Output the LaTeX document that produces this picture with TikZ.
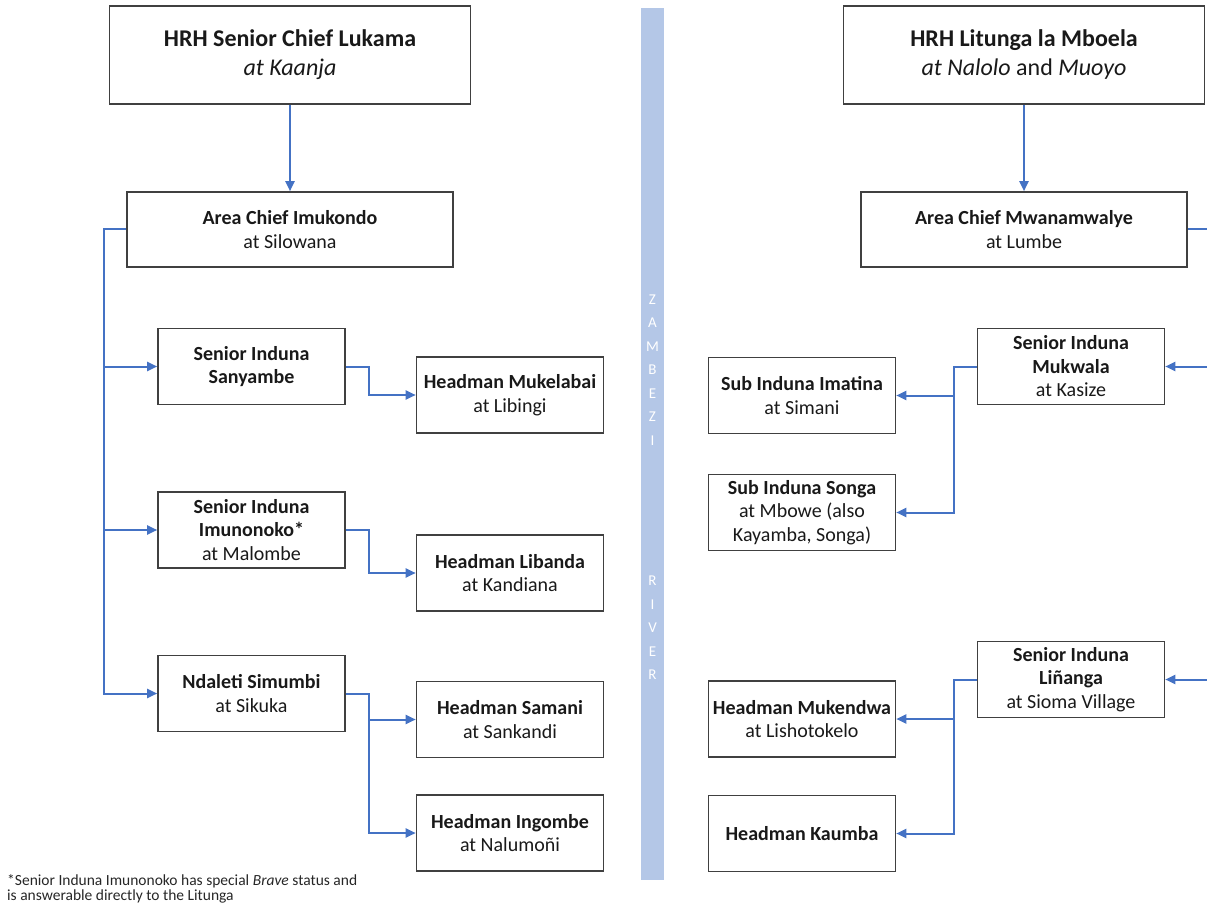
\documentclass[tikz,border=0pt]{standalone}
\usepackage{fontspec}
\setmainfont{Carlito}
\usepackage{tikz}
\usetikzlibrary{arrows.meta}
\definecolor{lnblue}{HTML}{4472C4}
\definecolor{rivblue}{HTML}{B4C7E7}
\definecolor{bxgray}{HTML}{404040}

\begin{document}
\begin{tikzpicture}[x=1pt,y=-1pt,
      nd/.style={draw=bxgray,line width=1.6pt,rectangle,align=center,inner sep=2pt,
        text=black!90,font=\fontsize{20}{23.5}\selectfont,minimum width=187pt,minimum height=76pt},
      area/.style={nd,minimum width=326pt,minimum height=75pt},
      hrh/.style={nd,font=\fontsize{24}{29}\selectfont,minimum width=361pt,minimum height=98pt},
      river/.style={fill=rivblue,minimum width=23pt,minimum height=872pt,inner sep=0pt},
      rivtxt/.style={text=white,align=center,font=\fontsize{15}{23.5}\selectfont,inner sep=0pt},
      ln/.style={draw=lnblue,line width=2pt},
      >={Triangle[length=10pt,width=9pt]}]
    \useasboundingbox (0,0) rectangle (1207,909);
    % river between the two sides
    \node[river](zr) at (652.5,444) {};
    \node[rivtxt](zam) at (652.5,370) {Z\\A\\M\\B\\E\\Z\\I};
    \node[rivtxt](riv) at (652.5,628) {R\\I\\V\\E\\R};
    % left side
    \node[hrh](lt)  at (290,55)    {\textbf{HRH Senior Chief Lukama}\\\textit{at Kaanja}};
    \node[area](la) at (290,229.5) {\textbf{Area Chief Imukondo}\\at Silowana};
    \node[nd](s1) at (251.5,366.5) {\textbf{Senior Induna}\\\textbf{Sanyambe}};
    \node[nd](s2) at (251.5,530)   {\textbf{Senior Induna}\\\textbf{Imunonoko*}\\at Malombe};
    \node[nd](s3) at (251.5,693.5) {\textbf{Ndaleti Simumbi}\\at Sikuka};
    \node[nd](h1) at (510,395)     {\textbf{Headman Mukelabai}\\at Libingi};
    \node[nd](h2) at (510,573)     {\textbf{Headman Libanda}\\at Kandiana};
    \node[nd](h3) at (510,719.5)   {\textbf{Headman Samani}\\at Sankandi};
    \node[nd](h4) at (510,833)     {\textbf{Headman Ingombe}\\at Nalumoñi};
    % right side
    \node[hrh](rt)  at (1024,55)    {\textbf{HRH Litunga la Mboela}\\\textit{at Nalolo} and \textit{Muoyo}};
    \node[area](ra) at (1024,229.5) {\textbf{Area Chief Mwanamwalye}\\at Lumbe};
    \node[nd](m1) at (1071,366.5)  {\textbf{Senior Induna}\\\textbf{Mukwala}\\at Kasize};
    \node[nd](m2) at (1071,679.5)  {\textbf{Senior Induna}\\\textbf{Liñanga}\\at Sioma Village};
    \node[nd](u1) at (802,395.5)   {\textbf{Sub Induna Imatina}\\at Simani};
    \node[nd](u2) at (802,512.5)   {\textbf{Sub Induna Songa}\\at Mbowe (also\\Kayamba, Songa)};
    \node[nd](k1) at (802,719)     {\textbf{Headman Mukendwa}\\at Lishotokelo};
    \node[nd](k2) at (802,833.5)   {\textbf{Headman Kaumba}};
    \coordinate (lb) at (104,229.5);
    \coordinate (rb) at (1216,229.5);
    % connectors
    \draw[ln,->](lt)--(la);\draw[ln,->](rt)--(ra);
    \draw[ln,->](la.west)--(lb)|-(s3.west);
    \draw[ln,->](lb|-s1.west)--(s1.west);\draw[ln,->](lb|-s2.west)--(s2.west);
    \draw[ln,->](s1.east)--++(23,0)|-(h1.west);
    \draw[ln,->](s2.east)--++(23,0)|-(h2.west);
    \draw[ln,->](s3.east)--++(23,0)|-(h3.west);
    \draw[ln,->](s3.east)--++(23,0)|-(h4.west);
    \draw[ln](ra.east)--(rb)--(rb|-m2.east);
    \draw[ln,->](rb|-m1.east)--(m1.east);\draw[ln,->](rb|-m2.east)--(m2.east);
    \draw[ln,->](m1.west)--++(-23,0)|-(u1.east);
    \draw[ln,->](m1.west)--++(-23,0)|-(u2.east);
    \draw[ln,->](m2.west)--++(-23,0)|-(k1.east);
    \draw[ln,->](m2.west)--++(-23,0)|-(k2.east);
    \node[anchor=north west,align=left,inner sep=0pt,text=black!85,
      font=\fontsize{15.5}{15.5}\selectfont](fn) at (7,874)
      {*Senior Induna Imunonoko has special \textit{Brave} status and\\is answerable directly to the Litunga};
  \end{tikzpicture}
\end{document}
